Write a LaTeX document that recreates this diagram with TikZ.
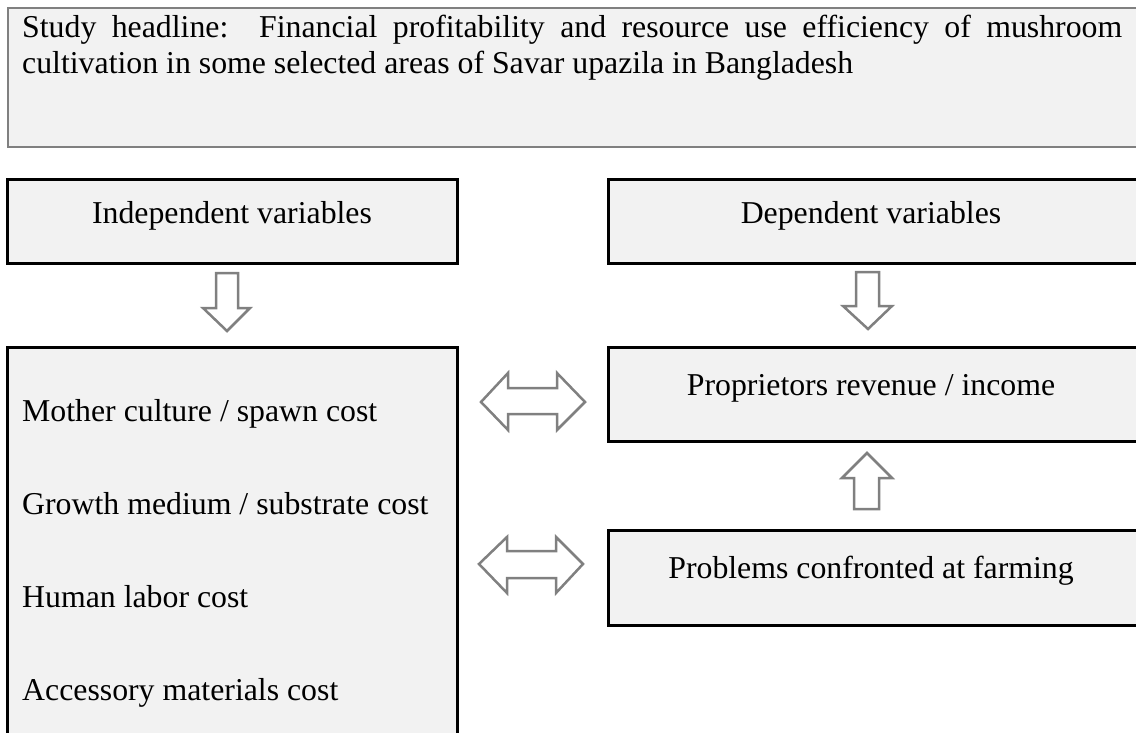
\documentclass[tikz,border=0pt]{standalone}
\usepackage{fontspec}
\setmainfont{Liberation Serif}
\definecolor{boxfill}{HTML}{F2F2F2}
\definecolor{linegray}{HTML}{808080}
\tikzset{
  blackbox/.style={draw=black, line width=3pt, fill=boxfill, rectangle, inner sep=0pt, outer sep=0pt, anchor=north west},
  titlebox/.style={draw=linegray, line width=2pt, fill=boxfill, rectangle, inner sep=0pt, outer sep=0pt, anchor=north west},
  label/.style={inner sep=0pt, font=\fontsize{31.8}{37}\selectfont},
  blockarrow/.style={draw=linegray, line width=2.5pt, fill=white, line join=miter},
}
\begin{document}
\begin{tikzpicture}[x=1pt,y=-1pt]
\useasboundingbox (0,0) rectangle (1136,733);
\clip (0,0) rectangle (1136,733);

% title
\node[titlebox, minimum width=1140pt, minimum height=139pt] (titlebox) at (8,8) {};
\node[label, anchor=base west] (title1) at (22,38)
  {\makebox[1100pt][s]{Study headline:\ \ Financial profitability and resource use efficiency of mushroom}};
\node[label, anchor=base west] (title2) at (22,74)
  {cultivation in some selected areas of Savar upazila in Bangladesh};

% variable headers
\node[blackbox, minimum width=450pt, minimum height=83pt] (indep) at (7,180) {};
\node[label, anchor=base] (indeptext) at (232,223) {Independent variables};
\node[blackbox, minimum width=535pt, minimum height=83pt] (dep) at (608,180) {};
\node[label, anchor=base] (deptext) at (871,223) {Dependent variables};

% left list box
\node[blackbox, minimum width=450pt, minimum height=400pt] (costs) at (7,347) {};
\node[label, anchor=base west] (c1) at (22,421) {Mother culture / spawn cost};
\node[label, anchor=base west] (c2) at (22,514) {Growth medium / substrate cost};
\node[label, anchor=base west] (c3) at (22,607) {Human labor cost};
\node[label, anchor=base west] (c4) at (22,700) {Accessory materials cost};

% right boxes
\node[blackbox, minimum width=535pt, minimum height=94pt] (income) at (608,347) {};
\node[label, anchor=base] (incometext) at (871,395) {Proprietors revenue / income};
\node[blackbox, minimum width=535pt, minimum height=95pt] (problems) at (608,530) {};
\node[label, anchor=base] (problemstext) at (871,578) {Problems confronted at farming};

% down arrow (left)
\draw[blockarrow] (216,273) -- (238,273) -- (238,308) -- (250,308) -- (227,331)
  -- (203,308) -- (216,308) -- cycle;
% down arrow (right)
\draw[blockarrow] (856,272) -- (879,272) -- (879,306) -- (892,306) -- (868,329)
  -- (843,306) -- (856,306) -- cycle;
% up arrow
\draw[blockarrow] (854,509) -- (879,509) -- (879,478) -- (892,478) -- (867,453)
  -- (842,478) -- (854,478) -- cycle;
% double arrows
\draw[blockarrow] (481,402) -- (508,373) -- (508,388) -- (557,388) -- (557,373)
  -- (585,402) -- (557,430) -- (557,414) -- (508,414) -- (508,430) -- cycle;
\draw[blockarrow] (479,564) -- (507,537) -- (507,551) -- (556,551) -- (556,537)
  -- (583,564) -- (556,593) -- (556,578) -- (507,578) -- (507,593) -- cycle;
\end{tikzpicture}
\end{document}
